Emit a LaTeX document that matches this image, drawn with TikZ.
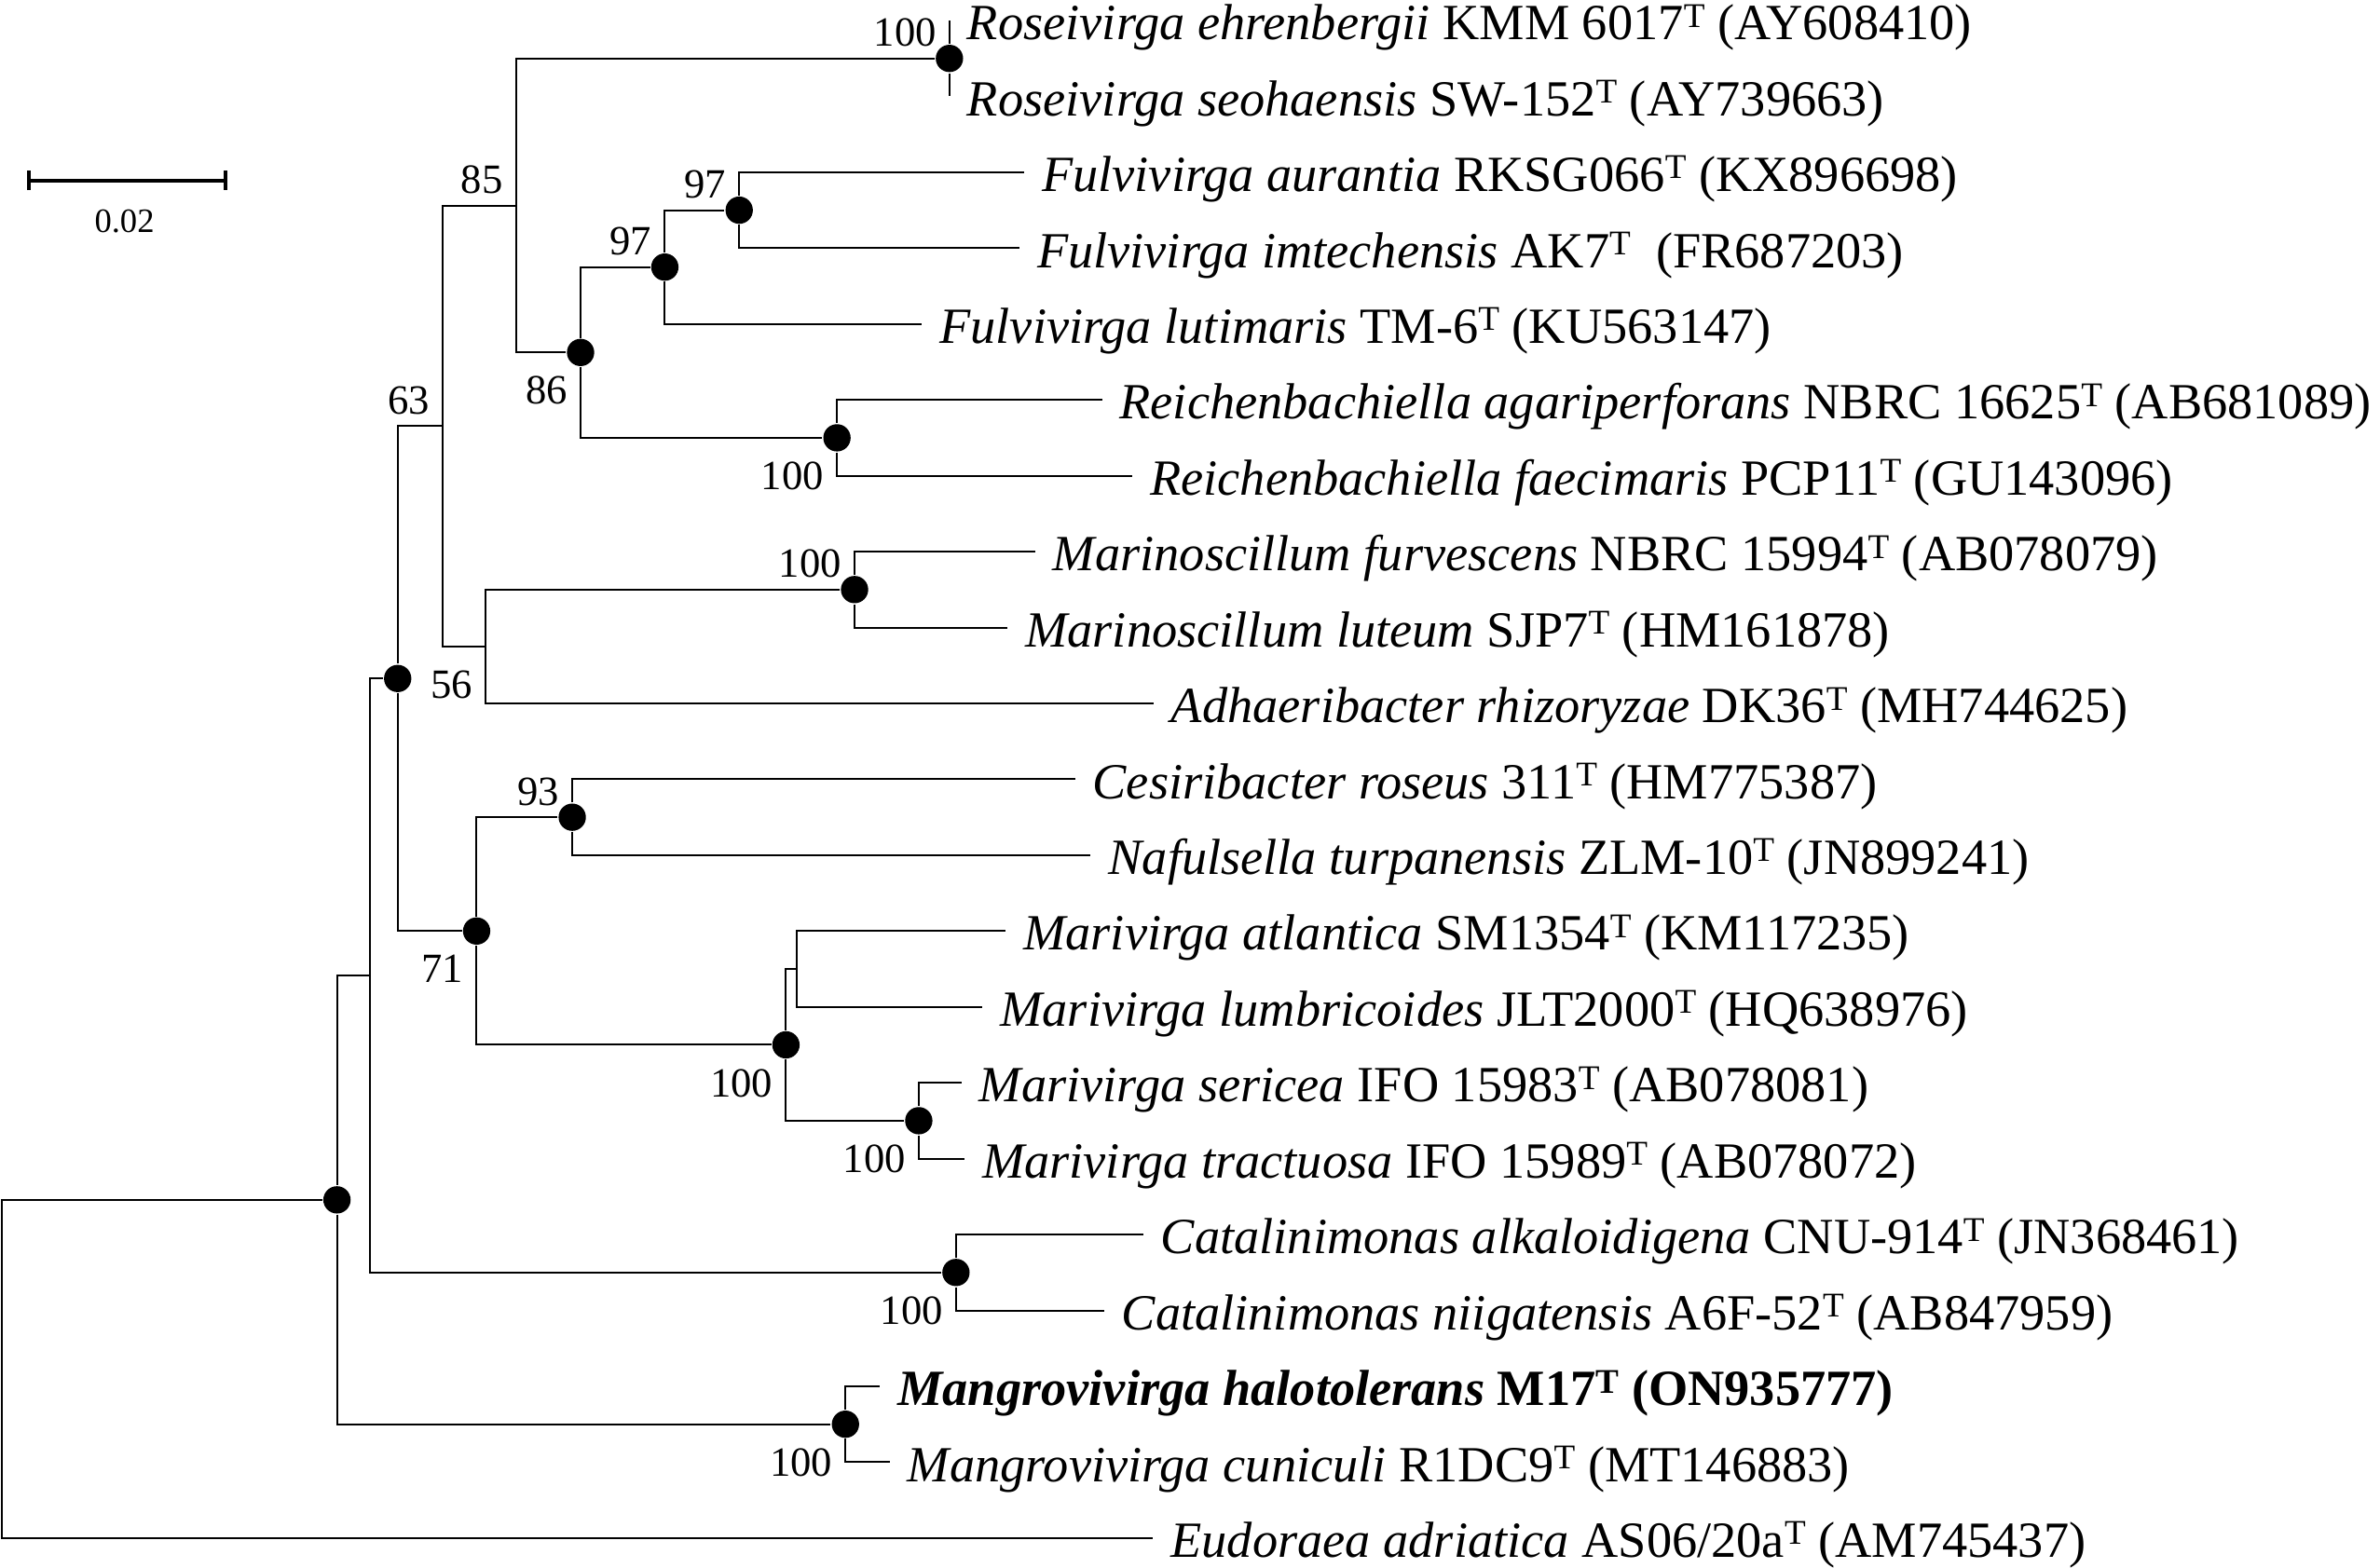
\documentclass[tikz,border=0pt]{standalone}
\usepackage{fontspec}
\setmainfont{Liberation Serif}
\usepackage{tikz}
\usetikzlibrary{positioning, arrows.meta}
\newcommand{\sT}{\raisebox{0.25em}{\fontsize{6.5}{7}\selectfont T}}

\begin{document}
\begin{tikzpicture}[
    br/.style={line width=0.35pt},
    dot/.style={circle, fill=black, inner sep=0pt, minimum size=0.18cm},
    taxon/.style={anchor=west, inner xsep=1.1mm, inner ysep=0pt, text height=2.54mm, text depth=0mm, font=\fontsize{9.5}{11}\selectfont},
    taxonbf/.style={taxon, font=\fontsize{9.5}{11}\selectfont\bfseries},
    boot/.style={inner sep=0pt, font=\fontsize{7.8}{9}\selectfont},
    scalebar/.style={line width=0.7pt, {Bar[width=1.27mm]}-{Bar[width=1.27mm]}},
  ]
      \useasboundingbox (0,0) rectangle (15.68,-10.33);

      \node[taxon] (TX1) at (6.255,-0.135) {\textit{Roseivirga ehrenbergii} KMM 6017\sT{} (AY608410)};
      \node[taxon] (TX2) at (6.255,-0.635) {\textit{Roseivirga seohaensis} SW-152\sT{} (AY739663)};
      \node[taxon] (TX3) at (6.747,-1.135) {\textit{Fulvivirga aurantia} RKSG066\sT{} (KX896698)};
      \node[taxon] (TX4) at (6.716,-1.635) {\textit{Fulvivirga imtechensis} AK7\sT{}\ \ (FR687203)};
      \node[taxon] (TX5) at (6.074,-2.135) {\textit{Fulvivirga lutimaris} TM-6\sT{} (KU563147)};
      \node[taxon] (TX6) at (7.26,-2.635) {\textit{Reichenbachiella agariperforans} NBRC 16625\sT{} (AB681089)};
      \node[taxon] (TX7) at (7.46,-3.135) {\textit{Reichenbachiella faecimaris} PCP11\sT{} (GU143096)};
      \node[taxon] (TX8) at (6.82,-3.635) {\textit{Marinoscillum furvescens} NBRC 15994\sT{} (AB078079)};
      \node[taxon] (TX9) at (6.638,-4.135) {\textit{Marinoscillum luteum} SJP7\sT{} (HM161878)};
      \node[taxon] (TX10) at (7.60,-4.635) {\textit{Adhaeribacter rhizoryzae} DK36\sT{} (MH744625)};
      \node[taxon] (TX11) at (7.082,-5.135) {\textit{Cesiribacter roseus} 311\sT{} (HM775387)};
      \node[taxon] (TX12) at (7.186,-5.635) {\textit{Nafulsella turpanensis} ZLM-10\sT{} (JN899241)};
      \node[taxon] (TX13) at (6.626,-6.135) {\textit{Marivirga atlantica} SM1354\sT{} (KM117235)};
      \node[taxon] (TX14) at (6.473,-6.635) {\textit{Marivirga lumbricoides} JLT2000\sT{} (HQ638976)};
      \node[taxon] (TX15) at (6.335,-7.135) {\textit{Marivirga sericea} IFO 15983\sT{} (AB078081)};
      \node[taxon] (TX16) at (6.354,-7.635) {\textit{Marivirga tractuosa} IFO 15989\sT{} (AB078072)};
      \node[taxon] (TX17) at (7.532,-8.135) {\textit{Catalinimonas alkaloidigena} CNU-914\sT{} (JN368461)};
      \node[taxon] (TX18) at (7.273,-8.635) {\textit{Catalinimonas niigatensis} A6F-52\sT{} (AB847959)};
      \node[taxonbf] (TX19) at (5.797,-9.135) {\textit{Mangrovivirga halotolerans} M17\sT{} (ON935777)};
      \node[taxon] (TX20) at (5.862,-9.635) {\textit{Mangrovivirga cuniculi} R1DC9\sT{} (MT146883)};
      \node[taxon] (TX21) at (7.597,-10.135) {\textit{Eudoraea adriatica} AS06/20a\sT{} (AM745437)};

      \node[dot] (ND1) at (6.255,-0.385) {};
      \node[dot] (ND2) at (4.87,-1.385) {};
      \node[dot] (ND3) at (4.38,-1.76) {};
      \node[dot] (ND4) at (5.514,-2.885) {};
      \node[dot] (ND5) at (3.825,-2.3225) {};
      \coordinate (ND6) at (3.40,-1.354);
      \node[dot] (ND7) at (5.63,-3.885) {};
      \coordinate (ND8) at (3.20,-4.26);
      \coordinate (ND9) at (2.916,-2.807);
      \node[dot] (ND10) at (3.77,-5.385) {};
      \coordinate (ND11) at (5.247,-6.385);
      \node[dot] (ND12) at (6.053,-7.385) {};
      \node[dot] (ND13) at (5.178,-6.885) {};
      \node[dot] (ND14) at (3.14,-6.135) {};
      \node[dot] (ND15) at (2.62,-4.471) {};
      \node[dot] (ND16) at (6.298,-8.385) {};
      \coordinate (ND17) at (2.44,-6.428);
      \node[dot] (ND18) at (5.57,-9.385) {};
      \node[dot] (ND19) at (2.22,-7.9065) {};
      \coordinate (ND20) at (0.01,-9.02);

      \node[boot, above left=0.07cm and 0.08cm of ND1.center] (BS1) {100};
      \node[boot, above left=0.07cm and 0.08cm of ND2.center] (BS2) {97};
      \node[boot, above left=0.07cm and 0.08cm of ND3.center] (BS3) {97};
      \node[boot, below left=0.152cm and 0.08cm of ND4.center] (BS4) {100};
      \node[boot, below left=0.152cm and 0.08cm of ND5.center] (BS5) {86};
      \node[boot, above left=0.07cm and 0.08cm of ND6.center] (BS6) {85};
      \node[boot, above left=0.07cm and 0.08cm of ND7.center] (BS7) {100};
      \node[boot, below left=0.152cm and 0.08cm of ND8.center] (BS8) {56};
      \node[boot, above left=0.07cm and 0.08cm of ND9.center] (BS9) {63};
      \node[boot, above left=0.07cm and 0.08cm of ND10.center] (BS10) {93};
      \node[boot, below left=0.152cm and 0.08cm of ND12.center] (BS12) {100};
      \node[boot, below left=0.152cm and 0.08cm of ND13.center] (BS13) {100};
      \node[boot, below left=0.152cm and 0.08cm of ND14.center] (BS14) {71};
      \node[boot, below left=0.152cm and 0.08cm of ND16.center] (BS16) {100};
      \node[boot, below left=0.152cm and 0.08cm of ND18.center] (BS18) {100};

      \draw[br] (node cs:name=ND1) |- (node cs:name=TX1, anchor=west);
      \draw[br] (node cs:name=ND1) |- (node cs:name=TX2, anchor=west);
      \draw[br] (node cs:name=ND2) |- (node cs:name=TX3, anchor=west);
      \draw[br] (node cs:name=ND2) |- (node cs:name=TX4, anchor=west);
      \draw[br] (node cs:name=ND3) |- (node cs:name=ND2);
      \draw[br] (node cs:name=ND3) |- (node cs:name=TX5, anchor=west);
      \draw[br] (node cs:name=ND4) |- (node cs:name=TX6, anchor=west);
      \draw[br] (node cs:name=ND4) |- (node cs:name=TX7, anchor=west);
      \draw[br] (node cs:name=ND5) |- (node cs:name=ND3);
      \draw[br] (node cs:name=ND5) |- (node cs:name=ND4);
      \draw[br] (node cs:name=ND6) |- (node cs:name=ND1);
      \draw[br] (node cs:name=ND6) |- (node cs:name=ND5);
      \draw[br] (node cs:name=ND7) |- (node cs:name=TX8, anchor=west);
      \draw[br] (node cs:name=ND7) |- (node cs:name=TX9, anchor=west);
      \draw[br] (node cs:name=ND8) |- (node cs:name=ND7);
      \draw[br] (node cs:name=ND8) |- (node cs:name=TX10, anchor=west);
      \draw[br] (node cs:name=ND9) |- (node cs:name=ND6);
      \draw[br] (node cs:name=ND9) |- (node cs:name=ND8);
      \draw[br] (node cs:name=ND10) |- (node cs:name=TX11, anchor=west);
      \draw[br] (node cs:name=ND10) |- (node cs:name=TX12, anchor=west);
      \draw[br] (node cs:name=ND11) |- (node cs:name=TX13, anchor=west);
      \draw[br] (node cs:name=ND11) |- (node cs:name=TX14, anchor=west);
      \draw[br] (node cs:name=ND12) |- (node cs:name=TX15, anchor=west);
      \draw[br] (node cs:name=ND12) |- (node cs:name=TX16, anchor=west);
      \draw[br] (node cs:name=ND13) |- (node cs:name=ND11);
      \draw[br] (node cs:name=ND13) |- (node cs:name=ND12);
      \draw[br] (node cs:name=ND14) |- (node cs:name=ND10);
      \draw[br] (node cs:name=ND14) |- (node cs:name=ND13);
      \draw[br] (node cs:name=ND15) |- (node cs:name=ND9);
      \draw[br] (node cs:name=ND15) |- (node cs:name=ND14);
      \draw[br] (node cs:name=ND16) |- (node cs:name=TX17, anchor=west);
      \draw[br] (node cs:name=ND16) |- (node cs:name=TX18, anchor=west);
      \draw[br] (node cs:name=ND17) |- (node cs:name=ND15);
      \draw[br] (node cs:name=ND17) |- (node cs:name=ND16);
      \draw[br] (node cs:name=ND18) |- (node cs:name=TX19, anchor=west);
      \draw[br] (node cs:name=ND18) |- (node cs:name=TX20, anchor=west);
      \draw[br] (node cs:name=ND19) |- (node cs:name=ND17);
      \draw[br] (node cs:name=ND19) |- (node cs:name=ND18);
      \draw[br] (node cs:name=ND20) |- (node cs:name=ND19);
      \draw[br] (node cs:name=ND20) |- (node cs:name=TX21, anchor=west);

      \coordinate (SC1) at (0.181,-1.19);
      \coordinate (SC2) at (1.50,-1.19);
      \draw[scalebar] (SC1) -- (SC2);
      \node[boot, font=\fontsize{6.4}{8}\selectfont] (SC3) at (0.82,-1.46) {0.02};
\end{tikzpicture}
\end{document}
